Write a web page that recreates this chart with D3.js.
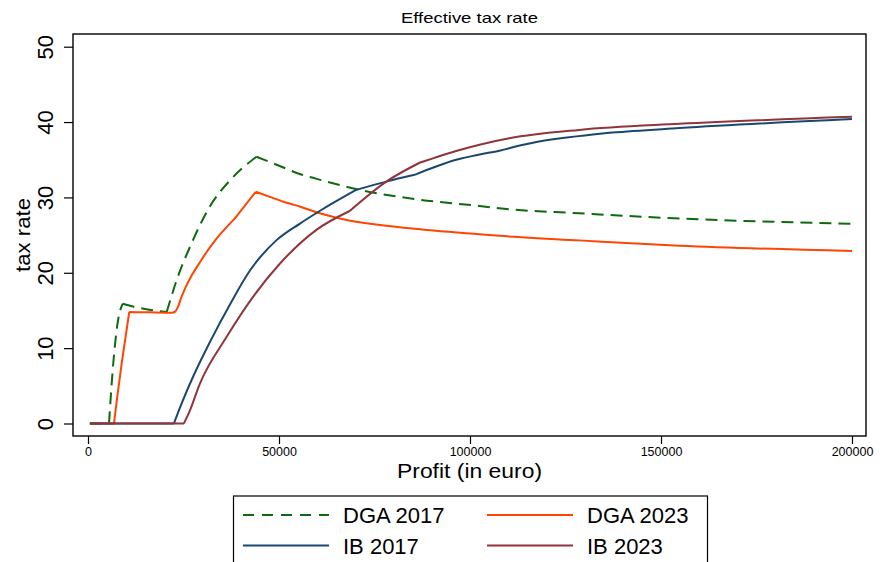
<!DOCTYPE html>
<html>
<head>
<meta charset="utf-8">
<script src="https://cdn.jsdelivr.net/npm/d3@7"></script>
<style>
  html, body { margin: 0; padding: 0; background: #fff; }
  svg { display: block; font-family: "Liberation Sans", Arial, sans-serif; }
</style>
</head>
<body>
<div id="chart"></div>
<script>
// profit (euro) / effective tax rate (%)
const dga2017Profit = [500, 5500, 6600, 7800, 9100, 12000, 16000, 20600, 23200, 27100, 31900, 37600, 44100, 51000, 55400, 58900, 71100, 86800, 102500, 107700, 128600, 154800, 200000];
const dga2017Rate = [0, 0, 7.9, 13.5, 15.9, 15.5, 15.1, 14.8, 19.0, 23.9, 28.8, 32.5, 35.4, 34.0, 33.1, 32.6, 31.0, 29.7, 28.86, 28.55, 27.9, 27.2, 26.5];
const dga2017Kinks = [5500, 9100, 20600, 44100];

const dga2023Profit = [500, 6800, 7650, 8800, 10100, 10800, 16000, 21900, 22800, 23500, 24400, 25400, 27200, 29300, 31400, 33600, 36000, 38400, 43900, 48000, 52000, 55400, 60000, 65900, 84200, 102500, 107700, 128600, 154800, 200000];
const dga2023Rate = [0, 0, 3.5, 7.9, 12.4, 14.8, 14.75, 14.7, 14.85, 15.4, 16.7, 17.9, 19.7, 21.4, 23.0, 24.5, 25.9, 27.2, 30.75, 30.0, 29.3, 28.8, 28.0, 27.2, 25.9, 25.1, 24.9, 24.3, 23.6, 22.9];
const dga2023Kinks = [6800, 10800, 38400, 43900];

const ib2017Profit = [500, 22500, 24000, 27500, 31900, 37600, 42400, 49300, 55400, 60650, 70200, 78100, 85500, 96400, 102500, 107700, 113000, 119900, 137300, 154800, 200000];
const ib2017Rate = [0, 0, 2.0, 6.2, 10.8, 16.2, 20.3, 24.3, 26.5, 28.2, 31.0, 32.1, 33.0, 35.0, 35.7, 36.2, 36.9, 37.6, 38.6, 39.2, 40.4];
const ib2017Kinks = [22500, 70200, 85500, 119900];

const ib2023Profit = [500, 25100, 26500, 29300, 36300, 43200, 50200, 59800, 68500, 78100, 86800, 97300, 102500, 110300, 128600, 154800, 200000];
const ib2023Rate = [0, 0, 1.5, 5.3, 11.5, 16.8, 21.2, 25.7, 28.2, 32.1, 34.6, 36.3, 37.0, 37.85, 38.96, 39.76, 40.7];
const ib2023Kinks = [25100, 68500, 86800];

const xTicks = [0, 50000, 100000, 150000, 200000];
const yTicks = [0, 10, 20, 30, 40, 50];

const seriesNames = ["DGA 2017", "DGA 2023", "IB 2017", "IB 2023"];
const seriesColors = ["#0d6b0d", "#ff4500", "#1a476f", "#90353b"];

const toPoints = (xs, ys) => xs.map((x, i) => ({ x: x, y: ys[i] }));
const series = [
  { name: "DGA 2017", pts: toPoints(dga2017Profit, dga2017Rate), kinks: dga2017Kinks, dash: "12,7" },
  { name: "DGA 2023", pts: toPoints(dga2023Profit, dga2023Rate), kinks: dga2023Kinks, dash: null },
  { name: "IB 2017", pts: toPoints(ib2017Profit, ib2017Rate), kinks: ib2017Kinks, dash: null },
  { name: "IB 2023", pts: toPoints(ib2023Profit, ib2023Rate), kinks: ib2023Kinks, dash: null },
];

const width = 880, height = 562;
const box = { left: 73, top: 34, right: 866, bottom: 436 };

const svg = d3.select("#chart").append("svg")
  .attr("width", width)
  .attr("height", height);

const x = d3.scaleLinear().domain([0, 200000]).range([88, 852]);
const y = d3.scaleLinear().domain([0, 50]).range([423.5, 46.7]);

// title
svg.append("text")
  .attr("x", (box.left + box.right) / 2)
  .attr("y", 23)
  .attr("text-anchor", "middle")
  .attr("font-size", 14.5)
  .attr("textLength", 137)
  .attr("lengthAdjust", "spacingAndGlyphs")
  .text("Effective tax rate");

// lines: smooth between kinks, sharp at kinks
const line = d3.line().x(d => x(d.x)).y(d => y(d.y)).curve(d3.curveMonotoneX);
function pathFor(pts, kinks) {
  const segs = [];
  let cur = [];
  pts.forEach(p => {
    cur.push(p);
    if (kinks.includes(p.x)) { segs.push(cur); cur = [p]; }
  });
  if (cur.length > 1) segs.push(cur);
  return segs.map(s => line(s)).join("");
}

series.forEach(s => {
  svg.append("path")
    .attr("fill", "none")
    .attr("stroke", seriesColors[seriesNames.indexOf(s.name)])
    .attr("stroke-width", 2)
    .attr("stroke-linejoin", "round")
    .attr("stroke-dasharray", s.dash)
    .attr("d", pathFor(s.pts, s.kinks));
});

// plot box
svg.append("rect")
  .attr("x", box.left)
  .attr("y", box.top)
  .attr("width", box.right - box.left)
  .attr("height", box.bottom - box.top)
  .attr("fill", "none")
  .attr("stroke", "#000")
  .attr("stroke-width", 1.4);

// axes
const xAxis = svg.append("g")
  .attr("transform", `translate(0,${box.bottom})`)
  .call(d3.axisBottom(x).tickValues(xTicks).tickSize(8).tickPadding(3).tickFormat(d3.format("d")));
xAxis.select(".domain").remove();
xAxis.selectAll("text").attr("font-size", 12.5).attr("font-family", "Liberation Sans, Arial, sans-serif").attr("fill", "#000");
xAxis.selectAll("line").attr("stroke-width", 1.2);

const yAxis = svg.append("g")
  .attr("transform", `translate(${box.left},0)`)
  .call(d3.axisLeft(y).tickValues(yTicks).tickSize(9).tickFormat(d3.format("d")));
yAxis.select(".domain").remove();
yAxis.selectAll("line").attr("stroke-width", 1.2);
yAxis.selectAll("text")
  .attr("x", null).attr("dy", null)
  .attr("text-anchor", "middle")
  .attr("font-size", 22)
  .attr("font-family", "Liberation Sans, Arial, sans-serif")
  .attr("fill", "#000")
  .attr("transform", "translate(-20,0) rotate(-90)");

// axis titles
svg.append("text")
  .attr("x", (box.left + box.right) / 2)
  .attr("y", 478)
  .attr("text-anchor", "middle")
  .attr("font-size", 21)
  .attr("textLength", 145)
  .attr("lengthAdjust", "spacingAndGlyphs")
  .text("Profit (in euro)");

svg.append("text")
  .attr("transform", `translate(30,${(box.top + box.bottom) / 2}) rotate(-90)`)
  .attr("text-anchor", "middle")
  .attr("font-size", 21)
  .attr("textLength", 74)
  .attr("lengthAdjust", "spacingAndGlyphs")
  .text("tax rate");

// legend
svg.append("rect")
  .attr("x", 233.5)
  .attr("y", 496)
  .attr("width", 474)
  .attr("height", 80)
  .attr("fill", "#fff")
  .attr("stroke", "#000")
  .attr("stroke-width", 1.2);

const legendCols = [243, 487];
const legendRows = [515, 545.5];
series.forEach((s, i) => {
  const col = i % 2, row = Math.floor(i / 2);
  const lx = legendCols[col], ly = legendRows[row];
  svg.append("line")
    .attr("x1", lx).attr("x2", lx + 86)
    .attr("y1", ly).attr("y2", ly)
    .attr("stroke", seriesColors[seriesNames.indexOf(s.name)])
    .attr("stroke-width", 2)
    .attr("stroke-dasharray", s.dash ? "11,8" : null);
  svg.append("text")
    .attr("x", lx + 100)
    .attr("y", ly + 8)
    .attr("font-size", 22)
    .text(s.name);
});
</script>
</body>
</html>
